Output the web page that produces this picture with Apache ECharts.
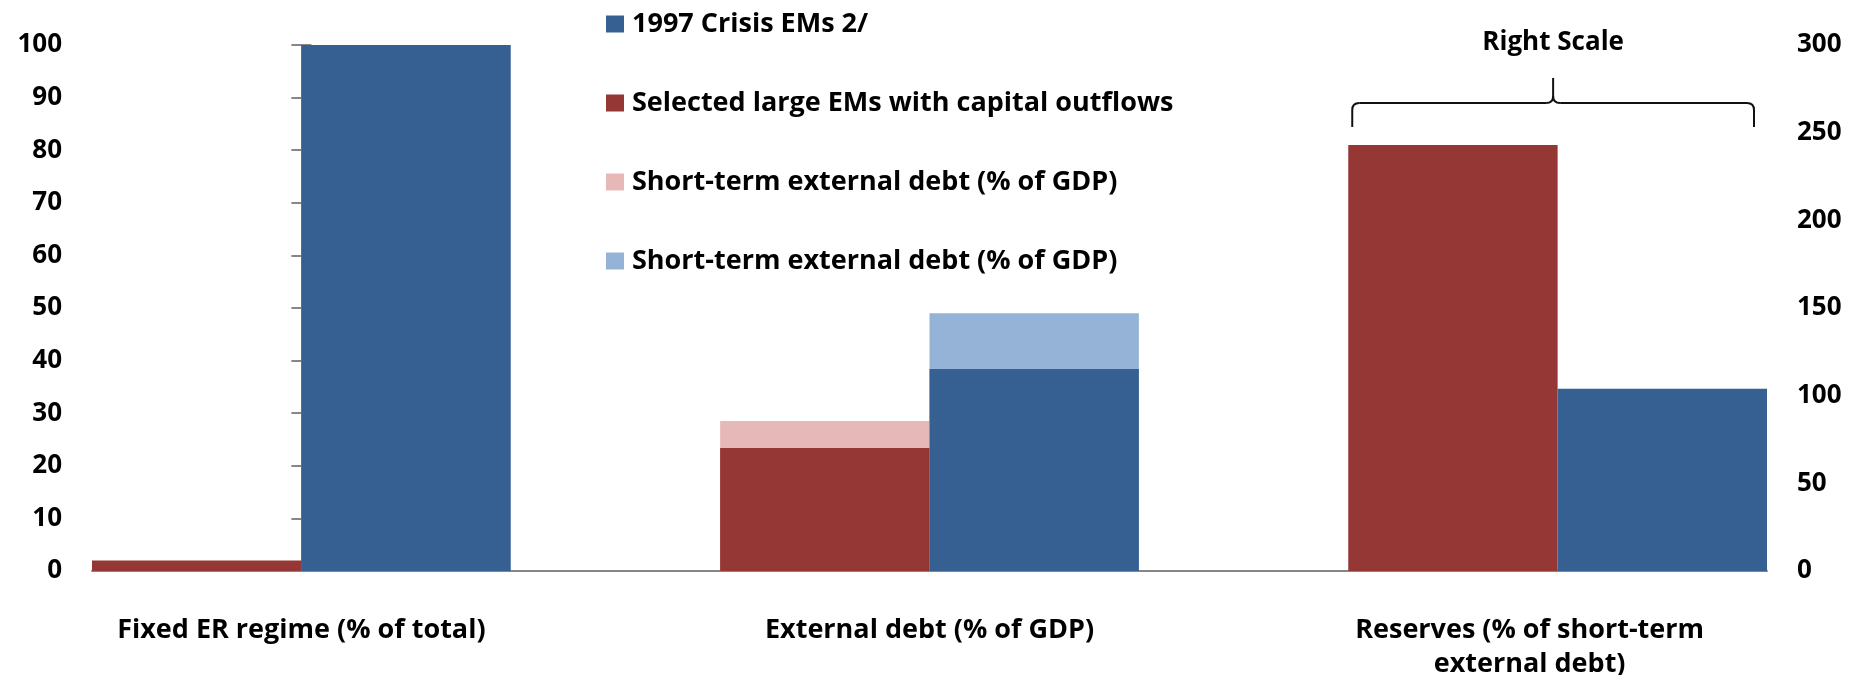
<!DOCTYPE html>
<html>
<head>
<meta charset="utf-8">
<title>External vulnerabilities: 1997 crisis EMs vs selected large EMs</title>
<script src="https://cdn.jsdelivr.net/npm/echarts@6/dist/echarts.min.js"></script>
<style>
  html, body { margin: 0; padding: 0; background: #ffffff; }
  #chart { width: 1863px; height: 675px; }
</style>
</head>
<body>
<div id="chart"></div>
<script>
// ---- data ----------------------------------------------------------------
const categories = [
  'Fixed ER regime (% of total)',
  'External debt (% of GDP)',
  'Reserves (% of short-term\nexternal debt)'
];
// scale each category is read against: 0 = left axis, 1 = right axis
const categoryScale = [0, 0, 1];

const crisisEMs         = [100, 38.4, 104];   // 1997 Crisis EMs 2/
const selectedEMs       = [2, 23.4, 243];     // Selected large EMs with capital outflows
const shortTermCrisis   = [null, 10.6, null]; // short-term segment on top, 1997 crisis EMs
const shortTermSelected = [null, 5.1, null];  // short-term segment on top, selected EMs

const leftAxisTicks  = [0, 10, 20, 30, 40, 50, 60, 70, 80, 90, 100];
const rightAxisTicks = [0, 50, 100, 150, 200, 250, 300];

const nameCrisis   = '1997 Crisis EMs 2/';
const nameSelected = 'Selected large EMs with capital outflows';
const nameSTSel    = 'Short-term external debt (% of GDP), selected EMs';
const nameSTCri    = 'Short-term external debt (% of GDP), 1997 crisis EMs';
const bracketText  = 'Right Scale';

// ---- style ---------------------------------------------------------------
const COLORS = {
  crisis: '#366092',
  selected: '#953735',
  stSelected: '#E6B9B8',
  stCrisis: '#95B3D7',
  axis: '#868686',
  text: '#000000'
};
const FONT = '"Open Sans", "Noto Sans", sans-serif';
// every bar takes a third of a category band; a pair fills two thirds
const BAR_SHARE = 1 / 3;

// Bars of one colour share a slot through their stack id; the short-term
// segments sit on a twin x axis as full-height bars drawn behind the base bars.
function barSeries(name, values, stack, color, scale, xAxisIndex, z) {
  return {
    name: name,
    type: 'bar',
    stack: stack,
    xAxisIndex: xAxisIndex,
    yAxisIndex: scale,
    z: z,
    barWidth: (BAR_SHARE * 100) + '%',
    barGap: '0%',
    itemStyle: { color: color },
    emphasis: { disabled: true },
    data: values.map((v, i) => [i, categoryScale[i] === scale ? v : null])
  };
}

const withSegment = (base, seg) => base.map((b, i) => (seg[i] == null ? null : b + seg[i]));

function axisFromTicks(ticks, position) {
  return {
    type: 'value',
    position: position,
    min: ticks[0],
    max: ticks[ticks.length - 1],
    interval: ticks[1] - ticks[0],
    axisLine: { show: true, lineStyle: { color: COLORS.axis, width: 2 } },
    axisTick: { show: true, length: 10, lineStyle: { color: COLORS.axis, width: 2 } },
    splitLine: { show: false },
    axisLabel: {
      margin: 30,
      color: COLORS.text,
      fontFamily: FONT,
      fontWeight: 'bold',
      fontSize: 26
    }
  };
}

const xRange = { min: -BAR_SHARE, max: categories.length - 1 + BAR_SHARE };
const labelFont = { color: COLORS.text, fontFamily: FONT, fontWeight: 'bold', fontSize: 27, lineHeight: 34 };

// the wrapped right-scale label sits a little left of its bar pair
function categoryLabel(v) {
  const i = Math.round(v);
  const text = categories[i] || '';
  if (categoryScale[i] !== 1) return text;
  return text.split('\n').map(line => '{shifted|' + line + '}').join('\n');
}

const chart = echarts.init(document.getElementById('chart'), null, { renderer: 'canvas' });

const option = {
  animation: false,
  backgroundColor: '#ffffff',
  grid: { left: 92, right: 96, top: 45, bottom: 104, containLabel: false, outerBoundsMode: 'none' },
  legend: {
    orient: 'vertical',
    left: 606,
    top: 9,
    padding: 0,
    itemWidth: 18,
    itemHeight: 17,
    itemGap: 49,
    icon: 'rect',
    selectedMode: false,
    data: [nameCrisis, nameSelected, nameSTSel, nameSTCri],
    formatter: name => name.split(',')[0],
    textStyle: {
      color: COLORS.text,
      fontFamily: FONT,
      fontWeight: 'bold',
      fontSize: 27,
      lineHeight: 30,
      padding: [0, 0, 0, 3]
    }
  },
  xAxis: [
    {
      type: 'value',
      min: xRange.min,
      max: xRange.max,
      axisLine: { show: true, onZero: false, lineStyle: { color: COLORS.axis, width: 2 } },
      axisTick: { show: false },
      splitLine: { show: false },
      axisLabel: Object.assign({
        customValues: categories.map((_, i) => i),
        formatter: categoryLabel,
        margin: 42,
        align: 'center',
        rich: { shifted: Object.assign({ padding: [0, 56, 0, 0] }, labelFont) }
      }, labelFont)
    },
    {
      type: 'value',
      min: xRange.min,
      max: xRange.max,
      show: false
    }
  ],
  yAxis: [
    axisFromTicks(leftAxisTicks, 'left'),
    axisFromTicks(rightAxisTicks, 'right')
  ],
  series: [
    // base bars: selected EMs on the left of each pair, crisis EMs on the right
    barSeries(nameSelected, selectedEMs, 'selected', COLORS.selected, 0, 0, 3),
    barSeries(nameSelected, selectedEMs, 'selected', COLORS.selected, 1, 0, 3),
    barSeries(nameCrisis, crisisEMs, 'crisis', COLORS.crisis, 0, 0, 3),
    barSeries(nameCrisis, crisisEMs, 'crisis', COLORS.crisis, 1, 0, 3),
    // short-term segments, reaching from the base bar up to base + segment
    barSeries(nameSTSel, withSegment(selectedEMs, shortTermSelected), 'stSelected', COLORS.stSelected, 0, 1, 2),
    barSeries(nameSTCri, withSegment(crisisEMs, shortTermCrisis), 'stCrisis', COLORS.stCrisis, 0, 1, 2)
  ]
};

chart.setOption(option);

// ---- "Right Scale" brace over the category read against the right axis ----
const rightIdx = categoryScale.indexOf(1);
const px = v => chart.convertToPixel({ xAxisIndex: 0 }, v);
const bL = px(rightIdx - BAR_SHARE) + 4;
const bR = px(rightIdx + BAR_SHARE) - 13;
const bC = (bL + bR) / 2;
const braceY = 103, tipY = 78, endY = 127, r = 7;
const stroke = { stroke: '#111111', lineWidth: 2, fill: null };

chart.setOption({
  graphic: [
    { type: 'text', x: bC, y: 43,
      style: { text: bracketText, fill: COLORS.text, fontFamily: FONT, fontWeight: 'bold',
               fontSize: 26, textAlign: 'center', textVerticalAlign: 'middle' } },
    { type: 'line', shape: { x1: bL, y1: endY, x2: bL, y2: braceY + r }, style: stroke },
    { type: 'bezierCurve', shape: { x1: bL, y1: braceY + r, cpx1: bL, cpy1: braceY, x2: bL + r, y2: braceY }, style: stroke },
    { type: 'line', shape: { x1: bL + r, y1: braceY, x2: bC - r, y2: braceY }, style: stroke },
    { type: 'bezierCurve', shape: { x1: bC - r, y1: braceY, cpx1: bC, cpy1: braceY, x2: bC, y2: braceY - r }, style: stroke },
    { type: 'line', shape: { x1: bC, y1: braceY - r, x2: bC, y2: tipY }, style: stroke },
    { type: 'bezierCurve', shape: { x1: bC, y1: braceY - r, cpx1: bC, cpy1: braceY, x2: bC + r, y2: braceY }, style: stroke },
    { type: 'line', shape: { x1: bC + r, y1: braceY, x2: bR - r, y2: braceY }, style: stroke },
    { type: 'bezierCurve', shape: { x1: bR - r, y1: braceY, cpx1: bR, cpy1: braceY, x2: bR, y2: braceY + r }, style: stroke },
    { type: 'line', shape: { x1: bR, y1: braceY + r, x2: bR, y2: endY }, style: stroke }
  ]
});
</script>
</body>
</html>
